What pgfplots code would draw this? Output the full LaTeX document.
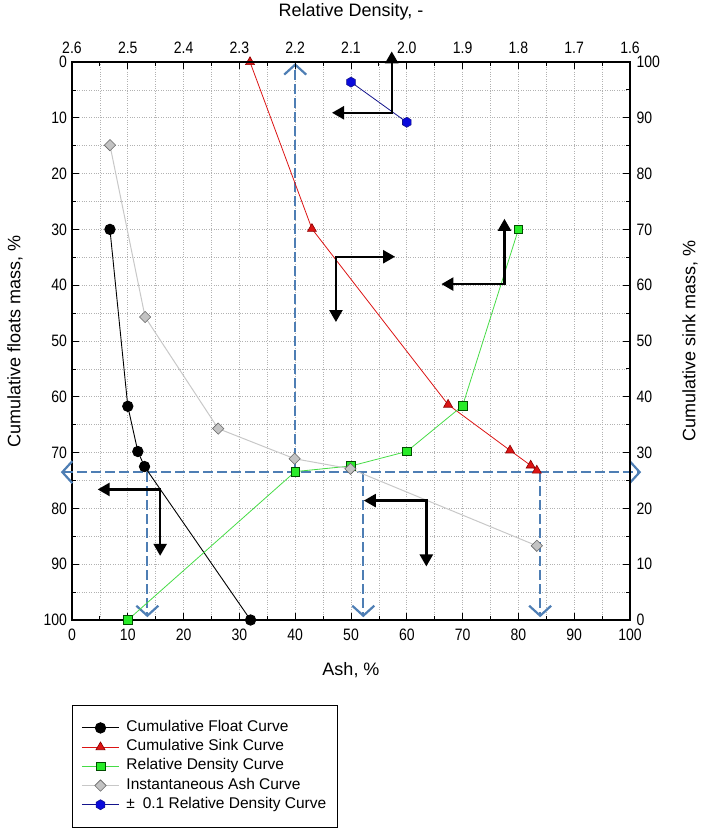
\documentclass[border=0pt]{standalone}
\usepackage{fontspec}
\setmainfont{Liberation Sans}
\newfontfamily\tickfont[FakeStretch=0.85]{Liberation Sans}
\usepackage{pgfplots}
\pgfplotsset{compat=1.18}
\usepackage{pgfplotstable}
\usetikzlibrary{arrows.meta}

\definecolor{sbl}{RGB}{78,126,180}
\definecolor{cred}{RGB}{220,20,20}
\definecolor{cdred}{RGB}{140,0,0}
\definecolor{cgreen}{RGB}{40,235,40}
\definecolor{cgline}{RGB}{70,220,70}
\definecolor{cgray}{RGB}{195,195,195}
\definecolor{cgline2}{RGB}{200,200,200}
\definecolor{cblue}{RGB}{10,10,220}
\definecolor{cnavy}{RGB}{20,20,140}

\pgfdeclareplotmark{hexagon}{%
  \pgfpathmoveto{\pgfqpointpolar{90}{\pgfplotmarksize}}%
  \pgfpathlineto{\pgfqpointpolar{150}{\pgfplotmarksize}}%
  \pgfpathlineto{\pgfqpointpolar{210}{\pgfplotmarksize}}%
  \pgfpathlineto{\pgfqpointpolar{270}{\pgfplotmarksize}}%
  \pgfpathlineto{\pgfqpointpolar{330}{\pgfplotmarksize}}%
  \pgfpathlineto{\pgfqpointpolar{30}{\pgfplotmarksize}}%
  \pgfpathclose
  \pgfusepathqfillstroke}

\pgfplotstableread{
x y
6.8 30
10 61.7
11.8 69.8
13 72.5
32 100
}\floatdata
\pgfplotstableread{
x y
31.9 0
43.0 29.9
67.4 61.4
78.5 69.6
82.2 72.3
83.3 73.2
}\sinkdata
\pgfplotstableread{
x y
10 100
40 73.4
50 72.4
60 69.8
70 61.6
80 30
}\rddata
\pgfplotstableread{
x y
6.8 14.9
13.1 45.7
26.2 65.7
39.9 71.1
49.9 72.9
83.3 86.7
}\ashdata
\pgfplotstableread{
x y
50 3.6
60 10.8
}\bluedata

\begin{document}
\begin{tikzpicture}
\useasboundingbox (-72pt,-209pt) rectangle (646pt,620pt);
\begin{axis}[
  scale only axis, width=558pt, height=558pt,
  at={(0pt,0pt)}, anchor=south west,
  xmin=0, xmax=100, ymin=0, ymax=100, y dir=reverse,
  xtick={0,10,...,100}, ytick={0,10,...,100},
  minor x tick num=1, minor y tick num=1,
  xtick pos=bottom, ytick pos=left,
  grid=both,
  major grid style={dotted, black!30, line width=0.7pt},
  minor grid style={dotted, black!30, line width=0.7pt},
  axis line style={line width=1.2pt},
  tick style={black, line width=0.8pt},
  major tick length=7pt, minor tick length=4pt,
  tick align=inside,
  /pgf/number format/assume math mode=true,
  tick label style={font=\tickfont\fontsize{16.5}{18}\selectfont},
  xticklabel style={yshift=-5pt},
  yticklabel style={xshift=-1.5pt},
  label style={font=\fontsize{18}{20}\selectfont},
  xlabel={Ash, \%},
  ylabel={Cumulative floats mass, \%},
  xlabel style={at={(0.5,-0.0896)}, anchor=center},
  ylabel style={at={(-0.102,0.5)}, anchor=center, rotate=0},
  clip=false,
  legend style={at={(0,-0.152)}, anchor=north west, draw=black, line width=1pt,
    font=\fontsize{15.5}{17}\selectfont, legend cell align=left,
    inner xsep=9pt, inner ysep=13pt, row sep=0pt,
    /tikz/every odd column/.append style={column sep=5pt},
    nodes={line width=0.8pt, inner ysep=2.2pt, text height=11pt, text depth=3.8pt}},
  legend image code/.code={%
    \draw[mark repeat=2,mark phase=2,#1] plot coordinates {(0pt,0pt) (18.5pt,0pt) (37pt,0pt)};},
]
% blue dashed guide arrows
\addplot[forget plot, sbl, line width=2.2pt, dash pattern=on 10pt off 4pt,
  {Straight Barb[length=10pt,width=22pt,line width=2.2pt]}-{Straight Barb[length=10pt,width=22pt,line width=2.2pt]}]
  coordinates {(-2,73.5) (102,73.5)};
\addplot[forget plot, sbl, line width=2.2pt, dash pattern=on 10pt off 4pt,
  -{Straight Barb[length=10pt,width=22pt,line width=2.2pt]}]
  coordinates {(40,73.5) (40,0.2)};
\addplot[forget plot, sbl, line width=2.2pt, dash pattern=on 10pt off 4pt,
  -{Straight Barb[length=10pt,width=22pt,line width=2.2pt]}]
  coordinates {(13.5,73.5) (13.5,99.5)};
\addplot[forget plot, sbl, line width=2.2pt, dash pattern=on 10pt off 4pt,
  -{Straight Barb[length=10pt,width=22pt,line width=2.2pt]}]
  coordinates {(52.2,73.5) (52.2,99.5)};
\addplot[forget plot, sbl, line width=2.2pt, dash pattern=on 10pt off 4pt,
  -{Straight Barb[length=10pt,width=22pt,line width=2.2pt]}]
  coordinates {(83.9,73.5) (83.9,99.5)};
% data series
\addplot[black, line width=0.9pt, mark=*, mark size=5.2pt, mark options={fill=black, draw=black}]
  table {\floatdata};
\addlegendentry{Cumulative Float Curve}
\addplot[cred, line width=0.8pt, mark=triangle*, mark size=5.2pt, mark options={fill=cred, draw=cdred, line width=0.6pt}]
  table {\sinkdata};
\addlegendentry{Cumulative Sink Curve}
\addplot[cgline, line width=0.8pt, mark=square*, mark size=4.3pt, mark options={fill=cgreen, draw=black!70!green, line width=0.6pt}]
  table {\rddata};
\addlegendentry{Relative Density Curve}
\addplot[cgline2, line width=1pt, mark=square*, mark size=4pt, mark options={fill=cgray, draw=black!60, line width=0.6pt, rotate=45}]
  table {\ashdata};
\addlegendentry{Instantaneous Ash Curve}
\addplot[cnavy, line width=0.8pt, mark=hexagon, mark size=5pt, mark options={fill=cblue, draw=cnavy, line width=0.6pt}]
  table {\bluedata};
\addlegendentry{±\enspace 0.1 Relative Density Curve}
% black L-arrows
\addplot[forget plot, black, line width=2.4pt, {Triangle[length=12pt,width=13pt]}-{Triangle[length=12pt,width=13pt]}]
  coordinates {(46.6,9.1) (57.3,9.1) (57.3,-1.9)};
\addplot[forget plot, black, line width=2.4pt, {Triangle[length=12pt,width=13pt]}-{Triangle[length=12pt,width=13pt]}]
  coordinates {(57.9,34.9) (47.3,34.9) (47.3,46.6)};
\addplot[forget plot, black, line width=2.4pt, {Triangle[length=12pt,width=13pt]}-{Triangle[length=12pt,width=13pt]}]
  coordinates {(66.2,39.8) (77.5,39.8) (77.5,28.1)};
\addplot[forget plot, black, line width=2.4pt, {Triangle[length=12pt,width=13pt]}-{Triangle[length=12pt,width=13pt]}]
  coordinates {(4.6,76.6) (15.8,76.6) (15.8,88.5)};
\addplot[forget plot, black, line width=2.4pt, {Triangle[length=12pt,width=13pt]}-{Triangle[length=12pt,width=13pt]}]
  coordinates {(52.3,78.6) (63.5,78.6) (63.5,90.4)};
\end{axis}
\begin{axis}[
  scale only axis, width=558pt, height=558pt,
  at={(0pt,0pt)}, anchor=south west,
  xmin=1.6, xmax=2.6, x dir=reverse, ymin=0, ymax=100,
  axis x line*=top, axis y line*=right,
  xtick={1.6,1.7,1.8,1.9,2.0,2.1,2.2,2.3,2.4,2.5,2.6},
  ytick={0,10,...,100},
  minor x tick num=1, minor y tick num=1,
  axis line style={line width=1.2pt, -},
  tick style={black, line width=0.8pt},
  major tick length=7pt, minor tick length=4pt,
  tick align=inside,
  /pgf/number format/assume math mode=true,
  tick label style={font=\tickfont\fontsize{16.5}{18}\selectfont},
  xticklabel style={yshift=4.5pt, /pgf/number format/.cd, fixed, fixed zerofill, precision=1},
  yticklabel style={xshift=3pt},
  label style={font=\fontsize{18}{20}\selectfont},
  xlabel={Relative Density, -},
  ylabel={Cumulative sink mass, \%},
  xlabel style={at={(0.5,1.0896)}, anchor=center},
  ylabel style={at={(1.1075,0.5)}, anchor=center, rotate=0},
]
\end{axis}
\end{tikzpicture}
\end{document}
